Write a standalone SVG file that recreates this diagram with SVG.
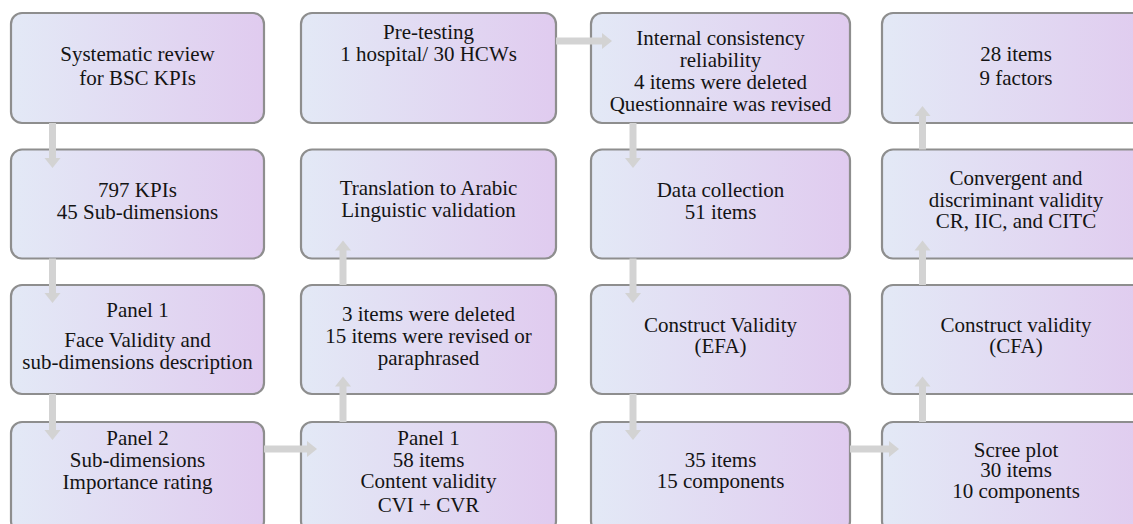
<svg xmlns="http://www.w3.org/2000/svg" width="1133" height="524" viewBox="0 0 1133 524">
  <defs>
    <linearGradient id="boxFill" x1="0" y1="0" x2="1" y2="0">
      <stop offset="0" stop-color="#e3e9f6"/>
      <stop offset="1" stop-color="#e0cbef"/>
    </linearGradient>
    <style>
      .box { fill: url(#boxFill); stroke: #8e8e8e; stroke-width: 2.2; }
      .lbl { font-size: 21px; fill: #141414; text-anchor: middle; }
      .arrow { fill: #d3d3d3; stroke: none; }
    </style>
  </defs>

  <rect width="1133" height="524" fill="#ffffff"/>

  <g font-family="'Liberation Serif', 'DejaVu Serif', serif">
  <!-- Column 1 -->
  <g id="n-review">
    <rect class="box" x="11" y="13" width="253" height="110" rx="11"/>
    <text class="lbl"><tspan x="137.5" y="61">Systematic review</tspan><tspan x="137.5" y="84.5">for BSC KPIs</tspan></text>
  </g>
  <g id="n-kpis">
    <rect class="box" x="11" y="149.5" width="253" height="109" rx="11"/>
    <text class="lbl"><tspan x="137.5" y="196.5">797 KPIs</tspan><tspan x="137.5" y="219">45 Sub-dimensions</tspan></text>
  </g>
  <g id="n-panel1-face">
    <rect class="box" x="11" y="285" width="253" height="109" rx="11"/>
    <text class="lbl"><tspan x="137.5" y="317.3">Panel 1</tspan><tspan x="137.5" y="347.3">Face Validity and</tspan><tspan x="137.5" y="369">sub-dimensions description</tspan></text>
  </g>
  <g id="n-panel2">
    <rect class="box" x="11" y="422" width="253" height="110" rx="11"/>
    <text class="lbl"><tspan x="137.5" y="445">Panel 2</tspan><tspan x="137.5" y="467">Sub-dimensions</tspan><tspan x="137.5" y="489">Importance rating</tspan></text>
  </g>

  <!-- Column 2 -->
  <g id="n-pretest">
    <rect class="box" x="301" y="13" width="255" height="110" rx="11"/>
    <text class="lbl"><tspan x="428.5" y="39">Pre-testing</tspan><tspan x="428.5" y="61">1 hospital/ 30 HCWs</tspan></text>
  </g>
  <g id="n-translation">
    <rect class="box" x="301" y="149.5" width="255" height="109" rx="11"/>
    <text class="lbl"><tspan x="428.5" y="195">Translation to Arabic</tspan><tspan x="428.5" y="217.3">Linguistic validation</tspan></text>
  </g>
  <g id="n-revised">
    <rect class="box" x="301" y="285" width="255" height="109" rx="11"/>
    <text class="lbl"><tspan x="428.5" y="320.7">3 items were deleted</tspan><tspan x="428.5" y="342.7">15 items were revised or</tspan><tspan x="428.5" y="364.7">paraphrased</tspan></text>
  </g>
  <g id="n-panel1-content">
    <rect class="box" x="301" y="422" width="255" height="110" rx="11"/>
    <text class="lbl"><tspan x="428.5" y="445">Panel 1</tspan><tspan x="428.5" y="466.7">58 items</tspan><tspan x="428.5" y="488.3">Content validity</tspan><tspan x="428.5" y="511.7">CVI + CVR</tspan></text>
  </g>

  <!-- Column 3 -->
  <g id="n-reliability">
    <rect class="box" x="591" y="13" width="259" height="110" rx="11"/>
    <text class="lbl"><tspan x="720.5" y="45">Internal consistency</tspan><tspan x="720.5" y="67">reliability</tspan><tspan x="720.5" y="89">4 items were deleted</tspan><tspan x="720.5" y="110.5">Questionnaire was revised</tspan></text>
  </g>
  <g id="n-collection">
    <rect class="box" x="591" y="149.5" width="259" height="109" rx="11"/>
    <text class="lbl"><tspan x="720.5" y="196.5">Data collection</tspan><tspan x="720.5" y="219">51 items</tspan></text>
  </g>
  <g id="n-efa">
    <rect class="box" x="591" y="285" width="259" height="109" rx="11"/>
    <text class="lbl"><tspan x="720.5" y="331.7">Construct Validity</tspan><tspan x="720.5" y="353.3">(EFA)</tspan></text>
  </g>
  <g id="n-35items">
    <rect class="box" x="591" y="422" width="259" height="110" rx="11"/>
    <text class="lbl"><tspan x="720.5" y="466.7">35 items</tspan><tspan x="720.5" y="488.3">15 components</tspan></text>
  </g>

  <!-- Column 4 -->
  <g id="n-28items">
    <rect class="box" x="882" y="13" width="268" height="110" rx="11"/>
    <text class="lbl"><tspan x="1016" y="61">28 items</tspan><tspan x="1016" y="84.5">9 factors</tspan></text>
  </g>
  <g id="n-convergent">
    <rect class="box" x="882" y="149.5" width="268" height="109" rx="11"/>
    <text class="lbl"><tspan x="1016" y="185">Convergent and</tspan><tspan x="1016" y="206.7">discriminant validity</tspan><tspan x="1016" y="228.3">CR, IIC, and CITC</tspan></text>
  </g>
  <g id="n-cfa">
    <rect class="box" x="882" y="285" width="268" height="109" rx="11"/>
    <text class="lbl"><tspan x="1016" y="331.7">Construct validity</tspan><tspan x="1016" y="353.3">(CFA)</tspan></text>
  </g>
  <g id="n-scree">
    <rect class="box" x="882" y="422" width="268" height="110" rx="11"/>
    <text class="lbl"><tspan x="1016" y="456.7">Scree plot</tspan><tspan x="1016" y="477.3">30 items</tspan><tspan x="1016" y="498.3">10 components</tspan></text>
  </g>
  </g>

  <!-- Block arrows, drawn over the box edges -->
  <g id="connectors">
    <!-- column 1, downward -->
    <polygon class="arrow" points="49,123 56,123 56,158 60.5,158 52.5,168 44.5,158 49,158"/>
    <polygon class="arrow" points="49,258.5 56,258.5 56,293 60.5,293 52.5,303 44.5,293 49,293"/>
    <polygon class="arrow" points="49,394 56,394 56,430 60.5,430 52.5,440 44.5,430 49,430"/>
    <!-- column 1 to column 2, bottom row -->
    <polygon class="arrow" points="264,445.5 264,452.5 307,452.5 307,457 317,449 307,441 307,445.5"/>
    <!-- column 2, upward -->
    <polygon class="arrow" points="339.5,422 346.5,422 346.5,386.5 351,386.5 343,376.5 335,386.5 339.5,386.5"/>
    <polygon class="arrow" points="339.5,285 346.5,285 346.5,250.5 351,250.5 343,240.5 335,250.5 339.5,250.5"/>
    <!-- column 2 to column 3, top row -->
    <polygon class="arrow" points="556,37.5 556,44.5 602,44.5 602,49 612,41 602,33 602,37.5"/>
    <!-- column 3, downward -->
    <polygon class="arrow" points="629.5,123 636.5,123 636.5,158 641,158 633,168 625,158 629.5,158"/>
    <polygon class="arrow" points="629.5,258.5 636.5,258.5 636.5,293 641,293 633,303 625,293 629.5,293"/>
    <polygon class="arrow" points="629.5,394 636.5,394 636.5,430 641,430 633,440 625,430 629.5,430"/>
    <!-- column 3 to column 4, bottom row -->
    <polygon class="arrow" points="850,445.5 850,452.5 889,452.5 889,457 899,449 889,441 889,445.5"/>
    <!-- column 4, upward -->
    <polygon class="arrow" points="919,422 926,422 926,386.5 930.5,386.5 922.5,376.5 914.5,386.5 919,386.5"/>
    <polygon class="arrow" points="919,285 926,285 926,250.5 930.5,250.5 922.5,240.5 914.5,250.5 919,250.5"/>
    <polygon class="arrow" points="919,149.5 926,149.5 926,116 930.5,116 922.5,106 914.5,116 919,116"/>
  </g>
</svg>
